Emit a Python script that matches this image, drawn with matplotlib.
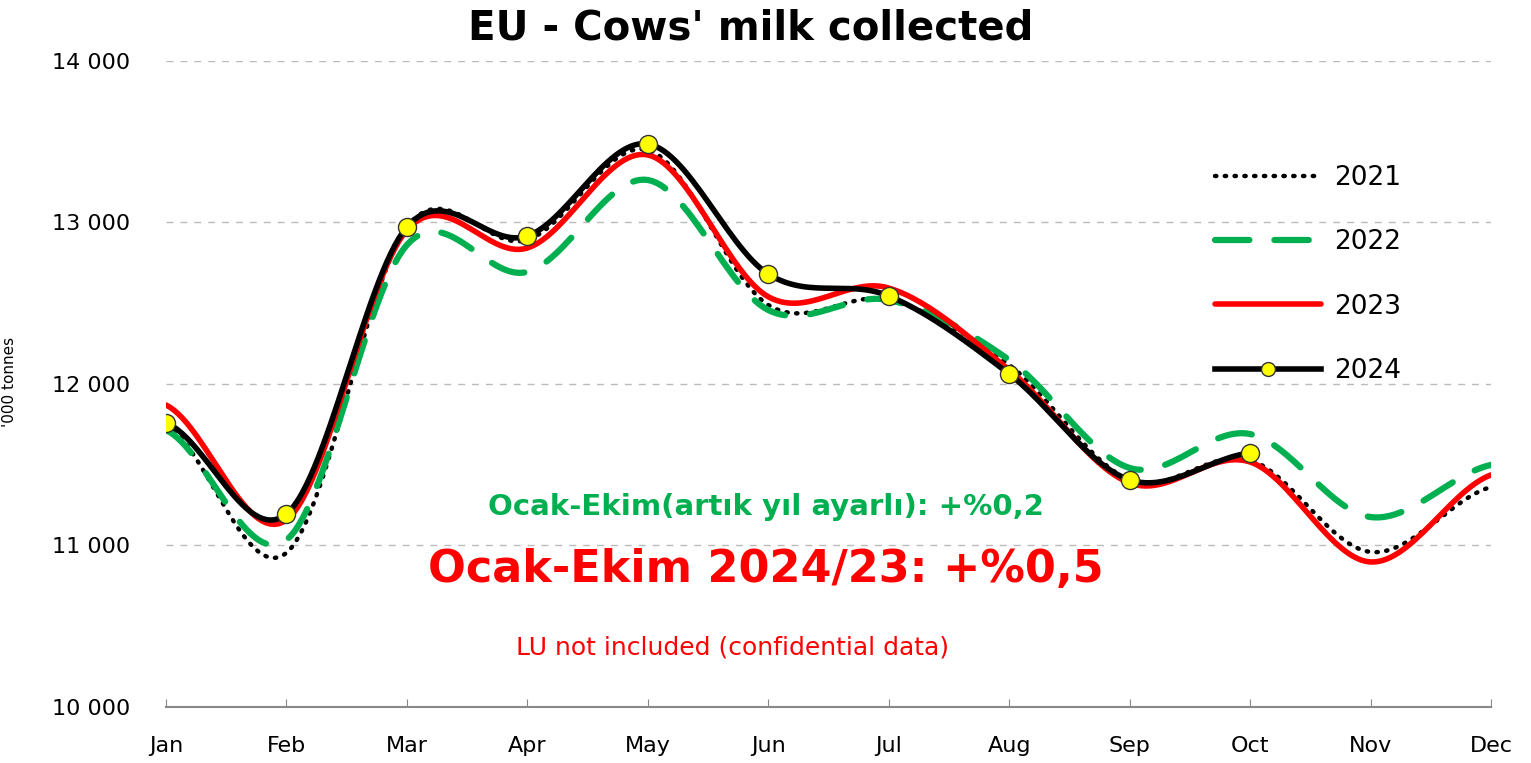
import matplotlib.pyplot as plt
import numpy as np

months = ["Jan", "Feb", "Mar", "Apr", "May", "Jun", "Jul", "Aug", "Sep", "Oct", "Nov", "Dec"]

milk_2021 = [11746, 10954, 12972, 12892, 13449, 12489, 12520, 12118, 11406, 11529, 10960, 11362]
milk_2022 = [11715, 11034, 12861, 12694, 13263, 12458, 12520, 12149, 11480, 11690, 11176, 11499]
milk_2023 = [11870, 11158, 12953, 12842, 13418, 12540, 12594, 12087, 11387, 11517, 10898, 11437]
milk_2024 = [11759, 11195, 12972, 12916, 13486, 12681, 12545, 12062, 11406, 11573]


def smooth(y, n=30):
    # Excel-like smoothed line (Catmull-Rom through the monthly points)
    y = np.asarray(y, dtype=float)
    m = np.zeros_like(y)
    m[1:-1] = (y[2:] - y[:-2]) / 2
    m[0] = (y[1] - y[0]) / 2
    m[-1] = (y[-1] - y[-2]) / 2
    xs, ys = [], []
    for i in range(len(y) - 1):
        t = np.linspace(0, 1, n, endpoint=False)
        h00 = 2 * t**3 - 3 * t**2 + 1
        h10 = t**3 - 2 * t**2 + t
        h01 = -2 * t**3 + 3 * t**2
        h11 = t**3 - t**2
        xs.append(i + t)
        ys.append(h00 * y[i] + h10 * m[i] + h01 * y[i + 1] + h11 * m[i + 1])
    xs.append([len(y) - 1])
    ys.append([y[-1]])
    return np.concatenate(xs), np.concatenate(ys)


fig = plt.figure(figsize=(15.31, 7.63), dpi=100)
ax = fig.add_axes([0.1084, 0.0734, 0.8655, 0.8467])

x, y = smooth(milk_2021)
ax.plot(x, y, color="black", lw=3.2, ls=(0, (0.3, 1.9)), dash_capstyle="round", label="2021")
x, y = smooth(milk_2022)
ax.plot(x, y, color="#00B050", lw=4.5, ls=(0, (5.5, 4)), dash_capstyle="round", label="2022")
x, y = smooth(milk_2023)
ax.plot(x, y, color="red", lw=4, solid_capstyle="round", label="2023")
x, y = smooth(milk_2024)
ax.plot(x, y, color="black", lw=4, solid_capstyle="round")
ax.plot(range(len(milk_2024)), milk_2024, ls="none", marker="o", ms=13,
        mfc="#FFFF00", mec="#333333", mew=1)
ax.plot([], [], color="black", lw=4, marker="o", ms=10, mfc="#FFFF00", mec="#333333",
        label="2024")

ax.set_xlim(0, 11)
ax.set_ylim(10000, 14000)
ax.set_yticks([10000, 11000, 12000, 13000, 14000])
ax.set_yticklabels(["10 000", "11 000", "12 000", "13 000", "14 000"], fontsize=16)
ax.set_xticks(range(12))
ax.set_xticklabels(months, fontsize=16)
ax.tick_params(axis="y", length=0, pad=26)
ax.tick_params(axis="x", direction="in", length=6, color="#888888", pad=21)
ax.yaxis.grid(True, ls=(0, (5, 5)), color="#BBBBBB", lw=1)
for s in ["left", "right", "top"]:
    ax.spines[s].set_visible(False)
ax.spines["bottom"].set_color("#888888")
ax.spines["bottom"].set_linewidth(1.5)

ax.legend(loc="upper left", bbox_to_anchor=(1215 / 1531, 1 - 165 / 763),
          bbox_transform=fig.transFigure, frameon=False, fontsize=19,
          handlelength=4.0, labelspacing=1.45, handletextpad=0.5,
          borderpad=0, borderaxespad=0)

fig.text(0.49, 0.963, "EU - Cows' milk collected", ha="center", va="center",
         fontsize=29, fontweight="bold")
ax.text(4.98, 11240, "Ocak-Ekim(artık yıl ayarlı): +%0,2", ha="center", va="center",
        fontsize=21, fontweight="bold", color="#00B050")
ax.text(4.98, 10850, "Ocak-Ekim 2024/23: +%0,5", ha="center", va="center",
        fontsize=32, fontweight="bold", color="red")
ax.text(4.7, 10370, "LU not included (confidential data)", ha="center", va="center",
        fontsize=18, color="red")
fig.text(0.001, 0.5, "'000 tonnes", rotation=90, ha="left", va="center", fontsize=11)

fig.savefig("out.png", dpi=100)
